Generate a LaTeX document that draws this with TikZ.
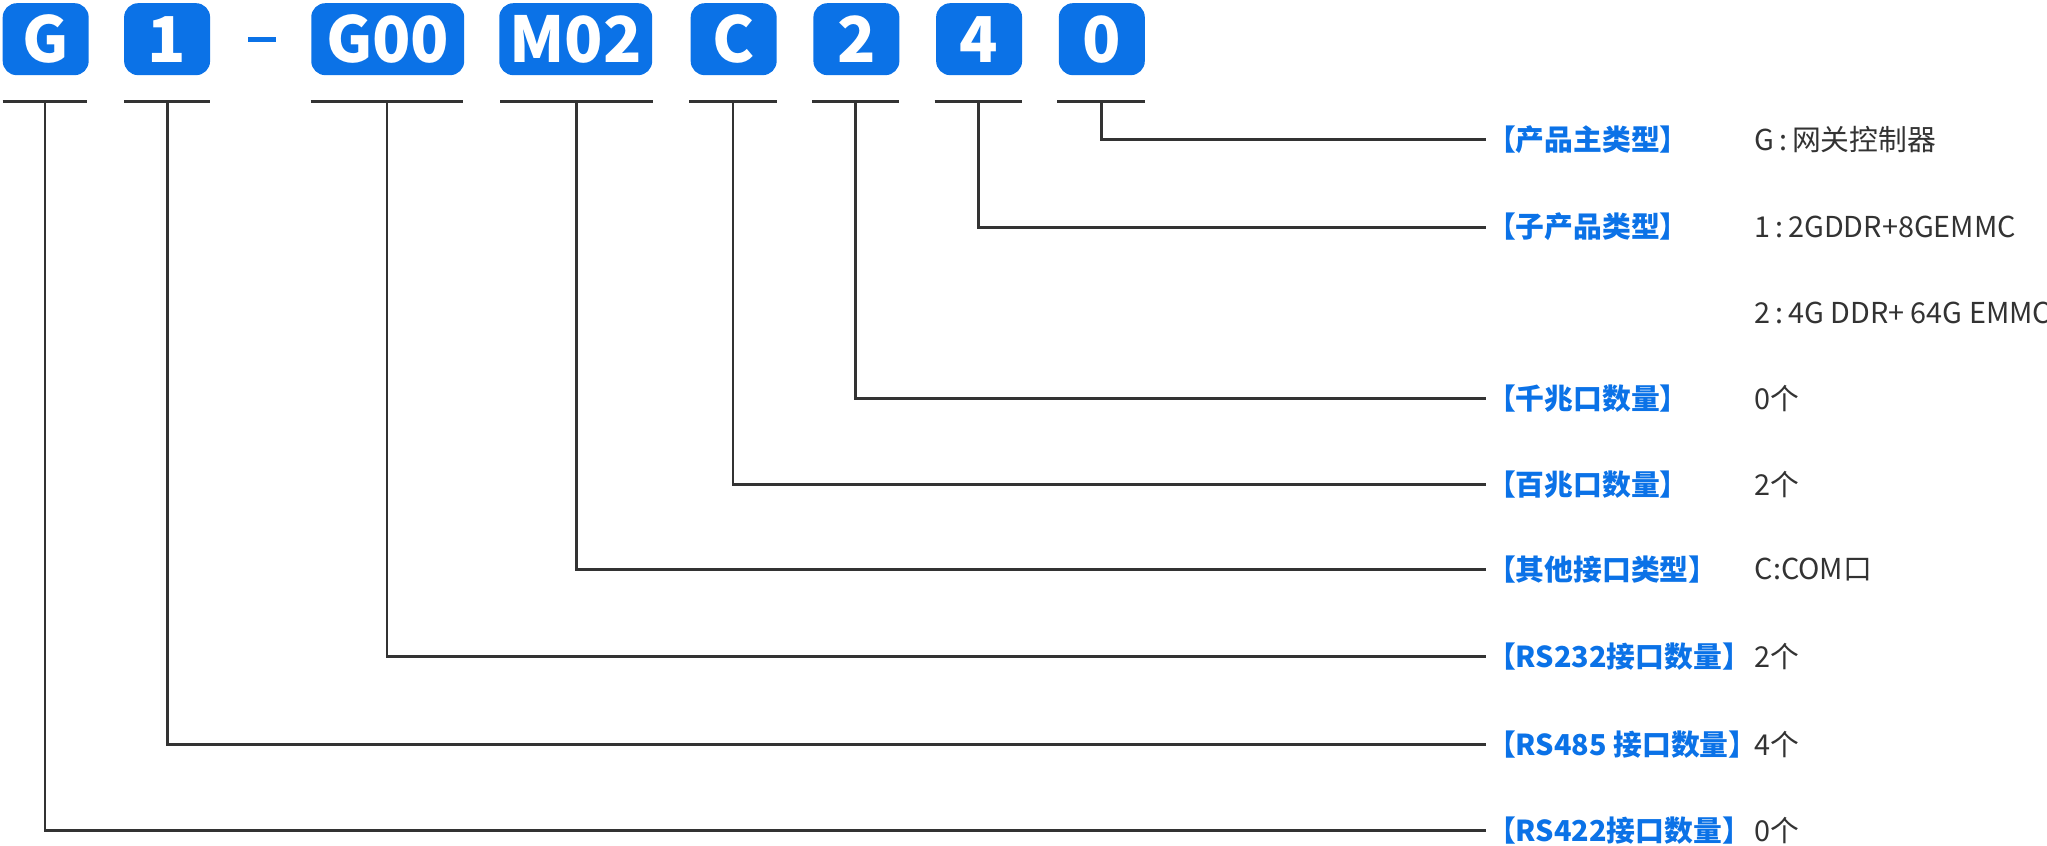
\documentclass[tikz,border=0pt]{standalone}
\usepackage{fontspec}
\setmainfont{Noto Sans CJK SC}
\definecolor{codeblue}{HTML}{0B72E7}
\begin{document}
\begin{tikzpicture}[x=0.013055cm,y=-0.013055cm,thick,
                    code box/.style={fill=codeblue,rounded corners=4pt,inner sep=0pt,minimum height=0.72cm,
                                     text=white,font=\fontsize{18}{18}\selectfont\bfseries},
                    label node/.style={anchor=west,inner sep=0pt,text=codeblue,font=\fontsize{8.2}{9}\selectfont\bfseries},
                    value node/.style={anchor=west,inner sep=0pt,text=black!80,font=\fontsize{8.2}{9}\selectfont},
                    under/.style={draw=black!80,line width=0.8pt}]
  \useasboundingbox (0,0) rectangle (1568,648);
  % code boxes
  \node[code box,minimum width=0.86cm] (bG) at (35,30) {G};
  \node[code box,minimum width=0.86cm] (b1) at (128,30) {1};
  \node[fill=codeblue,minimum width=0.28cm,minimum height=0.05cm,inner sep=0pt] (dash) at (201,30) {};
  \node[code box,minimum width=1.53cm] (bG00) at (297,30) {G00};
  \node[code box,minimum width=1.53cm] (bM02) at (441,30) {M02};
  \node[code box,minimum width=0.86cm] (bC) at (562,30) {C};
  \node[code box,minimum width=0.86cm] (b2) at (656,30) {2};
  \node[code box,minimum width=0.86cm] (b4) at (750,30) {4};
  \node[code box,minimum width=0.86cm] (b0) at (844,30) {0};
  % underlines
  \foreach \n/\a/\b in {G/2/67,1/95/161,G00/238/355,M02/383/500,C/528/595,2/622/689,4/716/783,0/810/877}{
    \draw[under] (\a,78) -- (\b,78);
    \coordinate (u\n) at ({(\a+\b)/2},78);
  }
  % labels
  \node[label node] (l0) at (1138,107) {【产品主类型】};
  \node[label node] (l4) at (1138,174) {【子产品类型】};
  \node[label node] (l2) at (1138,305) {【千兆口数量】};
  \node[label node] (lC) at (1138,371) {【百兆口数量】};
  \node[label node] (lM02) at (1138,436) {【其他接口类型】};
  \node[label node] (lG00) at (1138,503) {【RS232接口数量】};
  \node[label node] (l1) at (1138,570) {【RS485 接口数量】};
  \node[label node] (lG) at (1138,636) {【RS422接口数量】};
  % values
  \node[value node] (v0) at (1343,107) {G\,:\,网关控制器};
  \node[value node] (v4) at (1343,174) {1\,:\,2GDDR+8GEMMC};
  \node[value node] (v4b) at (1343,240) {2\,:\,4G DDR+ 64G EMMC};
  \node[value node] (v2) at (1343,305) {0个};
  \node[value node] (vC) at (1343,371) {2个};
  \node[value node] (vM02) at (1343,436) {C:COM口};
  \node[value node] (vG00) at (1343,503) {2个};
  \node[value node] (v1) at (1343,570) {4个};
  \node[value node] (vG) at (1343,636) {0个};
  % connectors
  \foreach \n in {0,4,2,C,M02,G00,1,G}
    \draw[under] (u\n) |- (l\n.west);
\end{tikzpicture}
\end{document}
